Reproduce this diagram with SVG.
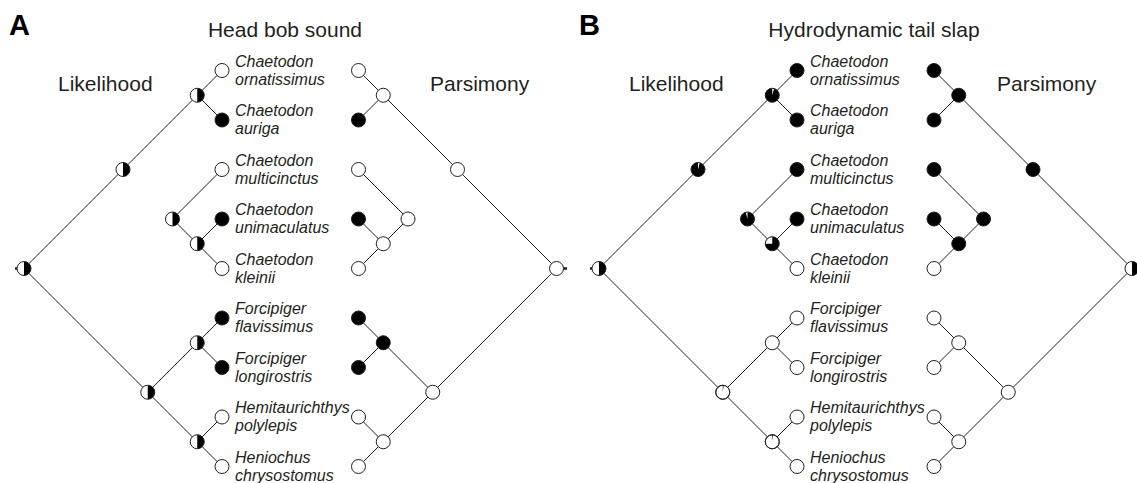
<svg xmlns="http://www.w3.org/2000/svg" xmlns:xlink="http://www.w3.org/1999/xlink" width="1137" height="483" viewBox="0 0 1137 483">
<style>
.e{stroke:#231f20;stroke-width:1;fill:none}
.stub{stroke:#231f20;stroke-width:2.5}
.w{fill:#fff;stroke:#231f20;stroke-width:1}
.b{fill:#000;stroke:#231f20;stroke-width:1}
.o{fill:none;stroke:#231f20;stroke-width:1}
.k{fill:#000;stroke:none}
.wf{fill:#fff;stroke:none}
.t{font-family:"Liberation Sans",Arial,sans-serif;font-style:italic;font-size:16px;fill:#231f20}
.h{font-family:"Liberation Sans",Arial,sans-serif;font-size:21px;fill:#231f20}
.p{font-family:"Liberation Sans",Arial,sans-serif;font-size:29px;font-weight:bold;fill:#000}
</style>
<defs>
<g id="half"><circle r="7" fill="#fff"/><path d="M0,-7A7,7 0 0 1 0,7Z" fill="#000"/><circle r="7" class="o"/></g>
<circle id="wn" r="7" class="w"/>
<circle id="bn" r="7" class="b"/>
</defs>
<rect width="1137" height="483" fill="#fff"/>
<g id="panel-labels">
<text class="p" x="9" y="35">A</text>
<text class="p" x="579" y="35">B</text>
<text class="h" x="285" y="37" text-anchor="middle">Head bob sound</text>
<text class="h" x="874" y="37" text-anchor="middle">Hydrodynamic tail slap</text>
<text class="h" x="58" y="91">Likelihood</text>
<text class="h" x="430" y="91">Parsimony</text>
<text class="h" x="629" y="91">Likelihood</text>
<text class="h" x="997" y="91">Parsimony</text>
</g>
<g id="connectors">
<!-- A likelihood -->
<path class="e" d="M222,70.5L197.25,95.25L222,120M197.25,95.25L24,268.5L197.25,441.75M222,169.5L172.5,219L197.25,243.75L222,219M197.25,243.75L222,268.5M222,318L147.75,392.25M197.25,342.75L222,367.5M222,417L197.25,441.75L222,466.5"/>
<line class="stub" x1="15" y1="268.5" x2="19" y2="268.5"/>
<!-- A parsimony -->
<path class="e" d="M358.5,70.5L383.25,95.25L358.5,120M383.25,95.25L556.5,268.5L383.25,441.75M358.5,169.5L408,219L383.25,243.75L358.5,219M383.25,243.75L358.5,268.5M358.5,318L432.75,392.25M383.25,342.75L358.5,367.5M358.5,417L383.25,441.75L358.5,466.5"/>
<line class="stub" x1="562" y1="268.5" x2="567" y2="268.5"/>
<!-- B likelihood -->
<path class="e" d="M797,70.5L772.25,95.25L797,120M772.25,95.25L599,268.5L772.25,441.75M797,169.5L747.5,219L772.25,243.75L797,219M772.25,243.75L797,268.5M797,318L722.75,392.25M772.25,342.75L797,367.5M797,417L772.25,441.75L797,466.5"/>
<line class="stub" x1="590" y1="268.5" x2="594" y2="268.5"/>
<!-- B parsimony -->
<path class="e" d="M934,70.5L958.75,95.25L934,120M958.75,95.25L1132,268.5L958.75,441.75M934,169.5L983.5,219L958.75,243.75L934,219M958.75,243.75L934,268.5M934,318L1008.25,392.25M958.75,342.75L934,367.5M934,417L958.75,441.75L934,466.5"/>
</g>
<!-- Panel A likelihood nodes -->
<g id="A-likelihood-nodes">
<use xlink:href="#half" x="24" y="268.5"/>
<use xlink:href="#half" x="123" y="169.5"/>
<use xlink:href="#half" x="197.25" y="95.25"/>
<use xlink:href="#half" x="172.5" y="219"/>
<use xlink:href="#half" x="197.25" y="243.75"/>
<use xlink:href="#half" x="147.75" y="392.25"/>
<use xlink:href="#half" x="197.25" y="342.75"/>
<use xlink:href="#half" x="197.25" y="441.75"/>
<use xlink:href="#wn" x="222" y="70.5"/>
<use xlink:href="#bn" x="222" y="120"/>
<use xlink:href="#wn" x="222" y="169.5"/>
<use xlink:href="#bn" x="222" y="219"/>
<use xlink:href="#wn" x="222" y="268.5"/>
<use xlink:href="#bn" x="222" y="318"/>
<use xlink:href="#bn" x="222" y="367.5"/>
<use xlink:href="#wn" x="222" y="417"/>
<use xlink:href="#wn" x="222" y="466.5"/>
</g>
<g id="A-parsimony-nodes">
<use xlink:href="#wn" x="556.5" y="268.5"/>
<use xlink:href="#wn" x="457.5" y="169.5"/>
<use xlink:href="#wn" x="383.25" y="95.25"/>
<use xlink:href="#wn" x="408" y="219"/>
<use xlink:href="#wn" x="383.25" y="243.75"/>
<use xlink:href="#wn" x="432.75" y="392.25"/>
<use xlink:href="#bn" x="383.25" y="342.75"/>
<use xlink:href="#wn" x="383.25" y="441.75"/>
<use xlink:href="#wn" x="358.5" y="70.5"/>
<use xlink:href="#bn" x="358.5" y="120"/>
<use xlink:href="#wn" x="358.5" y="169.5"/>
<use xlink:href="#bn" x="358.5" y="219"/>
<use xlink:href="#wn" x="358.5" y="268.5"/>
<use xlink:href="#bn" x="358.5" y="318"/>
<use xlink:href="#bn" x="358.5" y="367.5"/>
<use xlink:href="#wn" x="358.5" y="417"/>
<use xlink:href="#wn" x="358.5" y="466.5"/>
</g>
<g id="A-labels">
<text class="t" x="235" y="66.5">Chaetodon</text><text class="t" x="235" y="84.5">ornatissimus</text>
<text class="t" x="235" y="116">Chaetodon</text><text class="t" x="235" y="134">auriga</text>
<text class="t" x="235" y="165.5">Chaetodon</text><text class="t" x="235" y="183.5">multicinctus</text>
<text class="t" x="235" y="215">Chaetodon</text><text class="t" x="235" y="233">unimaculatus</text>
<text class="t" x="235" y="264.5">Chaetodon</text><text class="t" x="235" y="282.5">kleinii</text>
<text class="t" x="235" y="314">Forcipiger</text><text class="t" x="235" y="332">flavissimus</text>
<text class="t" x="235" y="363.5">Forcipiger</text><text class="t" x="235" y="381.5">longirostris</text>
<text class="t" x="235" y="413">Hemitaurichthys</text><text class="t" x="235" y="431">polylepis</text>
<text class="t" x="235" y="462.5">Heniochus</text><text class="t" x="235" y="480.5">chrysostomus</text>
</g>
<g id="B-likelihood-nodes">
<use xlink:href="#half" x="599" y="268.5"/>
<g id="B-n12345"><circle cx="698" cy="169.5" r="7" class="k"/><path class="wf" d="M698,169.5L698,162.5A7,7 0 0 1 699.8,162.7Z"/><circle cx="698" cy="169.5" r="7" class="o"/></g>
<g id="B-n12"><circle cx="772.25" cy="95.25" r="7" class="k"/><path class="wf" d="M772.25,95.25L772.25,88.25A7,7 0 0 1 774.1,88.5Z"/><circle cx="772.25" cy="95.25" r="7" class="o"/></g>
<g id="B-n345"><circle cx="747.5" cy="219" r="7" class="k"/><path class="wf" d="M747.5,219L745.7,212.2A7,7 0 0 1 747.5,212Z"/><circle cx="747.5" cy="219" r="7" class="o"/></g>
<g id="B-n45"><circle cx="772.25" cy="243.75" r="7" class="k"/><path class="wf" d="M772.25,243.75L765.25,243.75A7,7 0 0 1 772.25,236.75Z"/><circle cx="772.25" cy="243.75" r="7" class="o"/></g>
<g id="B-n6789"><circle cx="722.75" cy="392.25" r="7" class="w"/><path class="k" d="M722.75,392.25L722.75,385.25A7,7 0 0 1 723.6,385.3Z"/><circle cx="722.75" cy="392.25" r="7" class="o"/></g>
<use xlink:href="#wn" x="772.25" y="342.75"/>
<g id="B-n89"><circle cx="772.25" cy="441.75" r="7" class="w"/><path class="k" d="M772.25,441.75L772.25,434.75A7,7 0 0 1 773.1,434.8Z"/><circle cx="772.25" cy="441.75" r="7" class="o"/></g>
<use xlink:href="#bn" x="797" y="70.5"/>
<use xlink:href="#bn" x="797" y="120"/>
<use xlink:href="#bn" x="797" y="169.5"/>
<use xlink:href="#bn" x="797" y="219"/>
<use xlink:href="#wn" x="797" y="268.5"/>
<use xlink:href="#wn" x="797" y="318"/>
<use xlink:href="#wn" x="797" y="367.5"/>
<use xlink:href="#wn" x="797" y="417"/>
<use xlink:href="#wn" x="797" y="466.5"/>
</g>
<g id="B-parsimony-nodes">
<use xlink:href="#half" x="1132" y="268.5"/>
<use xlink:href="#bn" x="1033" y="169.5"/>
<use xlink:href="#bn" x="958.75" y="95.25"/>
<use xlink:href="#bn" x="983.5" y="219"/>
<use xlink:href="#bn" x="958.75" y="243.75"/>
<use xlink:href="#wn" x="1008.25" y="392.25"/>
<use xlink:href="#wn" x="958.75" y="342.75"/>
<use xlink:href="#wn" x="958.75" y="441.75"/>
<use xlink:href="#bn" x="934" y="70.5"/>
<use xlink:href="#bn" x="934" y="120"/>
<use xlink:href="#bn" x="934" y="169.5"/>
<use xlink:href="#bn" x="934" y="219"/>
<use xlink:href="#wn" x="934" y="268.5"/>
<use xlink:href="#wn" x="934" y="318"/>
<use xlink:href="#wn" x="934" y="367.5"/>
<use xlink:href="#wn" x="934" y="417"/>
<use xlink:href="#wn" x="934" y="466.5"/>
</g>
<g id="B-labels">
<text class="t" x="810" y="66.5">Chaetodon</text><text class="t" x="810" y="84.5">ornatissimus</text>
<text class="t" x="810" y="116">Chaetodon</text><text class="t" x="810" y="134">auriga</text>
<text class="t" x="810" y="165.5">Chaetodon</text><text class="t" x="810" y="183.5">multicinctus</text>
<text class="t" x="810" y="215">Chaetodon</text><text class="t" x="810" y="233">unimaculatus</text>
<text class="t" x="810" y="264.5">Chaetodon</text><text class="t" x="810" y="282.5">kleinii</text>
<text class="t" x="810" y="314">Forcipiger</text><text class="t" x="810" y="332">flavissimus</text>
<text class="t" x="810" y="363.5">Forcipiger</text><text class="t" x="810" y="381.5">longirostris</text>
<text class="t" x="810" y="413">Hemitaurichthys</text><text class="t" x="810" y="431">polylepis</text>
<text class="t" x="810" y="462.5">Heniochus</text><text class="t" x="810" y="480.5">chrysostomus</text>
</g>
</svg>
